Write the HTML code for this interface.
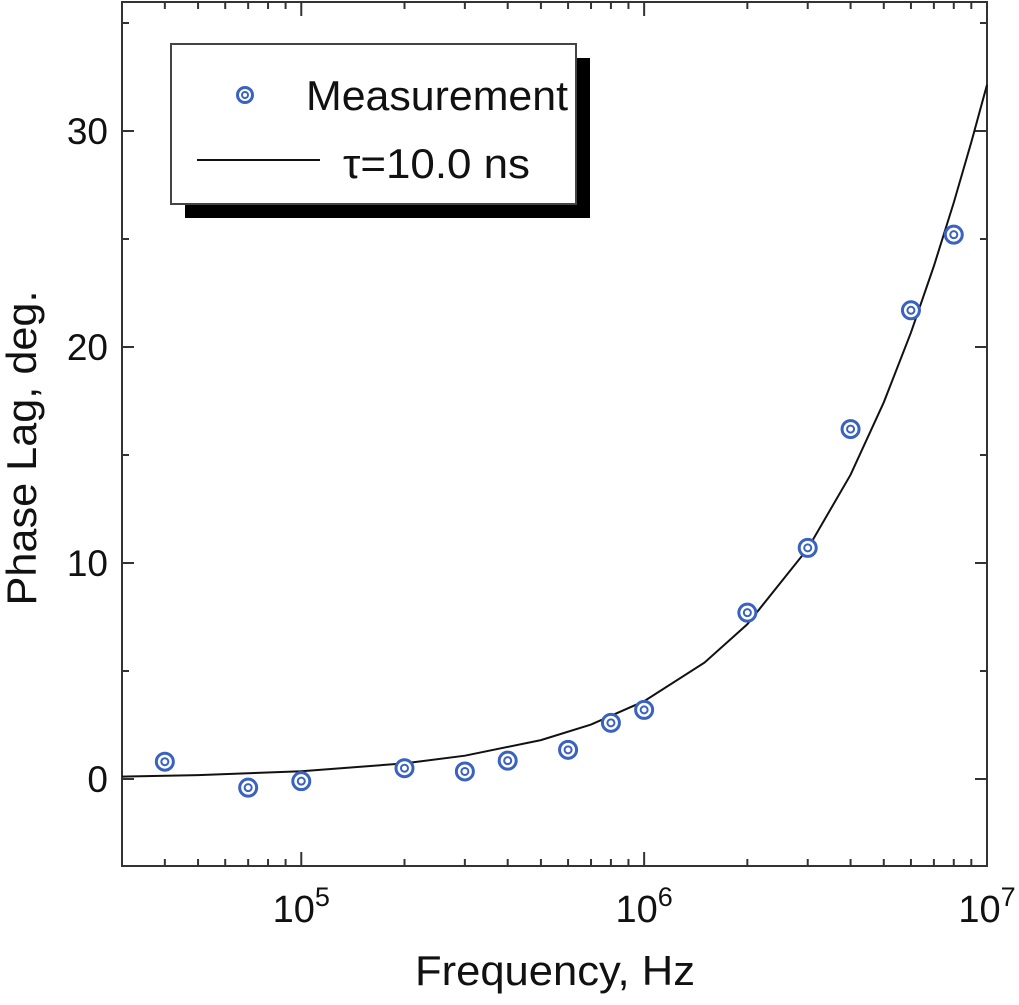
<!DOCTYPE html>
<html><head><meta charset="utf-8"><style>
body{margin:0;background:#fff;width:1019px;height:1000px;overflow:hidden}
svg text{font-family:"Liberation Sans",Arial,sans-serif;fill:#111}
</style></head><body>
<svg id="chart" width="1019" height="1000" viewBox="0 0 1019 1000" xmlns="http://www.w3.org/2000/svg">
<g id="marks"></g>
</svg>
<script>
const measFreq=[4e4,7e4,1e5,2e5,3e5,4e5,6e5,8e5,1e6,2e6,3e6,4e6,6e6,8e6];
const measPhase=[0.8,-0.4,-0.1,0.5,0.35,0.85,1.35,2.6,3.2,7.7,10.7,16.2,21.7,25.2];
const fitFreq=[3e4,5e4,1e5,2e5,3e5,5e5,7e5,1e6,1.5e6,2e6,3e6,4e6,5e6,6e6,7e6,8e6,9e6,1e7];
const fitPhase=[0.11,0.18,0.36,0.72,1.08,1.8,2.52,3.6,5.39,7.16,10.66,14.09,17.44,20.66,23.75,26.69,29.48,32.14];
const yTicks=[0,10,20,30];
const xDecades=[5,6,7];
const NS="http://www.w3.org/2000/svg";
const L=122,R=987,T=2,B=866;
const xMinLog=Math.log10(3e4),xMaxLog=7;
function xs(f){return L+(Math.log10(f)-xMinLog)/(xMaxLog-xMinLog)*(R-L);}
function ys(v){return 779-v*21.6;}
const g=document.getElementById('marks');
function el(tag,attrs,parent){const e=document.createElementNS(NS,tag);for(const k in attrs)e.setAttribute(k,attrs[k]);(parent||g).appendChild(e);return e;}
const frame=el('rect',{x:L,y:T,width:R-L,height:B-T,fill:'none',stroke:'#333',"stroke-width":2});


[-5,0,5,10,15,20,25,30,35].forEach(v=>{
  const y=ys(v);if(y<T||y>B)return;
  const len=(v%10===0)?12:7;
  const t1=el('line',{x1:L,x2:L+len,y1:y,y2:y,stroke:'#333',"stroke-width":2});
  
  
  const t2=el('line',{x1:R,x2:R-len,y1:y,y2:y,stroke:'#333',"stroke-width":2});
  
  
});
yTicks.forEach(v=>{
  const tx=el('text',{x:108,y:ys(v)+13,"text-anchor":"end","font-size":37});
  tx.textContent=v;
  
  
});
for(let d=4;d<=6;d++){for(let m=1;m<=9;m++){
  const f=m*Math.pow(10,d);if(f<3e4||f>1e7)continue;
  const x=xs(f);const len=m===1?14:7;
  const a=el('line',{x1:x,x2:x,y1:B,y2:B-len,stroke:'#333',"stroke-width":2});
  
  
  const b=el('line',{x1:x,x2:x,y1:T,y2:T+len,stroke:'#333',"stroke-width":2});
  
  
}}
xDecades.forEach(d=>{
  const x=xs(Math.pow(10,d));
  const tx=el('text',{x:x,y:922,"text-anchor":"middle","font-size":38});
  
  
  const b=document.createElementNS(NS,'tspan');b.textContent='10';tx.appendChild(b);
  const s=document.createElementNS(NS,'tspan');s.setAttribute('dy','-16');s.setAttribute('font-size','27');s.textContent=d;tx.appendChild(s);
});
const pts=fitFreq.map((f,i)=>xs(f).toFixed(1)+','+ys(fitPhase[i]).toFixed(1)).join(' ');
const pl=el('polyline',{points:pts,fill:'none',stroke:'#111',"stroke-width":2});


measFreq.forEach((f,i)=>{
  const cx=xs(f),cy=ys(measPhase[i]);
  const c=el('circle',{cx:cx,cy:cy,r:8.5,fill:'#fff',stroke:'#3a62c0',"stroke-width":3});
  
  
  const c2=el('circle',{cx:cx,cy:cy,r:3.5,fill:'none',stroke:'#3a62c0',"stroke-width":2});
  
  
});
</script>
<svg style="position:absolute;left:0;top:0" width="1019" height="1000">
<g>
<rect x="185" y="58" width="405" height="160" fill="#000"/>
<rect x="171" y="44" width="405" height="160" fill="#fff" stroke="#444" stroke-width="2"/>
<circle cx="245" cy="95" r="7.5" fill="#fff" stroke="#3a62c0" stroke-width="3"/>
<circle cx="245" cy="95" r="3" fill="none" stroke="#3a62c0" stroke-width="2"/>
<text x="306" y="110" font-size="42" textLength="262" lengthAdjust="spacingAndGlyphs" font-family="Liberation Sans, sans-serif">Measurement</text>
<line x1="197" x2="320" y1="160" y2="160" stroke="#111" stroke-width="2"/>
<text x="343" y="178" font-size="42" textLength="187" lengthAdjust="spacingAndGlyphs" font-family="Liberation Sans, sans-serif">τ=10.0 ns</text>
</g>
<text x="555" y="985" text-anchor="middle" font-size="42" textLength="280" lengthAdjust="spacingAndGlyphs" font-family="Liberation Sans, sans-serif">Frequency, Hz</text>
<text x="0" y="0" transform="translate(36,448) rotate(-90)" text-anchor="middle" font-size="42" textLength="315" lengthAdjust="spacingAndGlyphs" font-family="Liberation Sans, sans-serif">Phase Lag, deg.</text>
</svg>
</body></html>
